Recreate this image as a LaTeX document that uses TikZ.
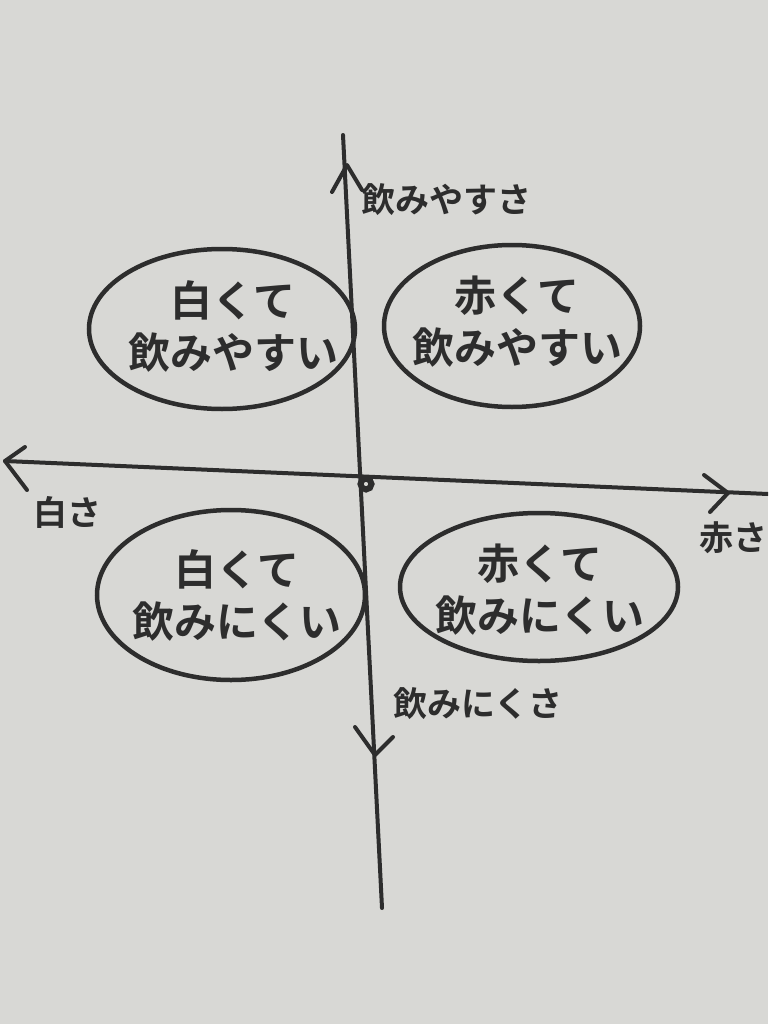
\documentclass[tikz,border=0pt]{standalone}
\usepackage{fontspec}
\newfontfamily\cjk{Noto Sans CJK JP}[BoldFont={Noto Sans CJK JP Bold}]
\definecolor{paper}{RGB}{216,216,213}
\definecolor{ink}{RGB}{45,45,45}
\tikzset{
  axis/.style={draw=ink, line width=4pt, line cap=round, line join=round},
  blob/.style={draw=ink, line width=4.5pt},
  quad/.style={text=ink, font=\cjk\bfseries\fontsize{42}{52}\selectfont, align=center},
  axlabel/.style={text=ink, font=\cjk\bfseries\fontsize{34}{40}\selectfont, anchor=west},
}
\begin{document}
\begin{tikzpicture}[x=1pt,y=-1pt]
\fill[paper] (0,0) rectangle (768,1024);
\useasboundingbox (0,0) rectangle (768,1024);
\clip (0,0) rectangle (768,1024);
% axes
\coordinate (vtop) at (343,135);
\coordinate (vbot) at (382,908);
\coordinate (hleft) at (5,461);
\coordinate (hright) at (768,494);
\coordinate (o) at (366,484);
\draw[axis] (vtop) -- (vbot);
\draw[axis] (hleft) -- (hright);
% arrowheads
\coordinate (ut) at (347,165);
\draw[axis] (332,192) -- (ut) -- (362,190);
\coordinate (dt) at (375,755);
\draw[axis] (355,727) -- (dt) -- (393,737);
\draw[axis] (25,447) -- (hleft) -- (27,490);
\coordinate (rt) at (728,493);
\draw[axis] (704,475) -- (rt) -- (710,512);
\draw[ink, line width=6pt] (o) circle (5.5);
% ellipses
\draw[blob] (222,329) ellipse [x radius=133, y radius=80];
\draw[blob] (512,326) ellipse [x radius=128, y radius=81];
\draw[blob] (231,595) ellipse [x radius=134, y radius=85];
\draw[blob] (539,587) ellipse [x radius=139, y radius=74];
% texts
\node[quad] (q1) at (233,326) {白くて\\飲みやすい};
\node[quad] (q2) at (517,322) {赤くて\\飲みやすい};
\node[quad] (q3) at (237,595) {白くて\\飲みにくい};
\node[quad] (q4) at (540,590) {赤くて\\飲みにくい};
\node[axlabel] (ly) at (358,200) {飲みやすさ};
\node[axlabel] (lx) at (30,512) {白さ};
\node[axlabel] (lr) at (696,538) {赤さ};
\node[axlabel] (ln) at (390,704) {飲みにくさ};
\end{tikzpicture}
\end{document}
